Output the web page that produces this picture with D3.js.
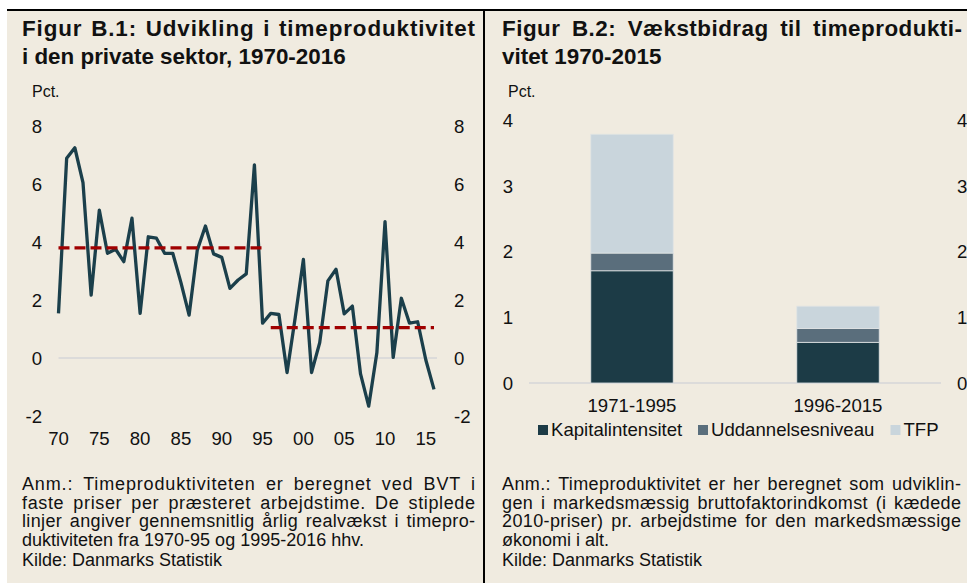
<!DOCTYPE html>
<html>
<head>
<meta charset="utf-8">
<script src="https://cdn.jsdelivr.net/npm/d3@7"></script>
<style>
  body { margin: 0; background: #fff; }
  svg { display: block; font-family: "Liberation Sans", Arial, sans-serif; }
</style>
</head>
<body>
<div id="chart"></div>
<script>
// ---- data ----
const years = [1970, 1971, 1972, 1973, 1974, 1975, 1976, 1977, 1978, 1979,
  1980, 1981, 1982, 1983, 1984, 1985, 1986, 1987, 1988, 1989,
  1990, 1991, 1992, 1993, 1994, 1995, 1996, 1997, 1998, 1999,
  2000, 2001, 2002, 2003, 2004, 2005, 2006, 2007, 2008, 2009,
  2010, 2011, 2012, 2013, 2014, 2015, 2016];
const productivity = [1.54, 6.89, 7.25, 6.05, 2.17, 5.10, 3.61, 3.75, 3.32, 4.82,
  1.54, 4.18, 4.13, 3.61, 3.61, 2.60, 1.48, 3.72, 4.55, 3.59,
  3.47, 2.40, 2.69, 2.90, 6.66, 1.20, 1.54, 1.50, -0.50, 1.40,
  3.40, -0.50, 0.53, 2.66, 3.06, 1.52, 1.79, -0.55, -1.66, 0.18,
  4.70, 0.02, 2.06, 1.20, 1.25, -0.07, -1.08];
const averages = [
  {from: 1970, to: 1995, value: 3.8},
  {from: 1996, to: 2016, value: 1.05}
];
const lineTicks = [-2, 0, 2, 4, 6, 8];
const yearTicks = [1970, 1975, 1980, 1985, 1990, 1995, 2000, 2005, 2010, 2015];
const yearLabels = ["70", "75", "80", "85", "90", "95", "00", "05", "10", "15"];

const periods = ["1971-1995", "1996-2015"];
const kapital = [1.71, 0.62];
const uddannelse = [0.27, 0.21];
const tfp = [1.81, 0.34];
const seriesNames = ["Kapitalintensitet", "Uddannelsesniveau", "TFP"];
const barTicks = [0, 1, 2, 3, 4];

// ---- setup ----
const W = 967, H = 583;
const bg = "#f0ebe0";
const ink = "#111";

const svg = d3.select("#chart").append("svg")
  .attr("width", W)
  .attr("height", H);

svg.append("rect").attr("x", 7).attr("y", 10).attr("width", W - 7).attr("height", H - 10).attr("fill", bg);
// frame lines
svg.append("line").attr("x1", 7).attr("x2", W).attr("y1", 10).attr("y2", 10)
  .attr("stroke", "#000").attr("stroke-width", 2);
svg.append("line").attr("x1", 484).attr("x2", 484).attr("y1", 10).attr("y2", H)
  .attr("stroke", "#000").attr("stroke-width", 2);

// justified line: part of the slack goes to word gaps, the rest to letters
function justify(sel, width, wordShare) {
  sel.each(function() {
    const t = d3.select(this);
    const n = (t.text().match(/ /g) || []).length;
    const w = this.getComputedTextLength();
    if (n) t.attr("word-spacing", (width - w) * wordShare / n);
    t.attr("textLength", width).attr("lengthAdjust", "spacing");
  });
}

function textBlock(x, ys, lines, justifiedCount, width, size, weight, wordShare) {
  lines.forEach((s, i) => {
    const t = svg.append("text")
      .attr("x", x).attr("y", ys[i])
      .attr("font-size", size).attr("font-weight", weight)
      .attr("fill", ink)
      .text(s);
    if (i < justifiedCount) justify(t, width, wordShare);
  });
}

// titles
textBlock(22, [36, 64], ["Figur B.1: Udvikling i timeproduktivitet", "i den private sektor, 1970-2016"],
  1, 453, "22.4px", "bold", 0.15);
textBlock(502, [36, 64], ["Figur B.2: Vækstbidrag til timeprodukti-", "vitet 1970-2015"],
  1, 460, "22.4px", "bold", 0.5);

// notes
const noteY = [490, 508.5, 527, 545.5, 566];
textBlock(22, noteY, [
  "Anm.: Timeproduktiviteten er beregnet ved BVT i",
  "faste priser per præsteret arbejdstime. De stiplede",
  "linjer angiver gennemsnitlig årlig realvækst i timepro-",
  "duktiviteten fra 1970-95 og 1995-2016 hhv.",
  "Kilde: Danmarks Statistik"], 3, 453, "18px", "normal", 0.4);
textBlock(502, noteY, [
  "Anm.: Timeproduktivitet er her beregnet som udviklin-",
  "gen i markedsmæssig bruttofaktorindkomst (i kædede",
  "2010-priser) pr. arbejdstime for den markedsmæssige",
  "økonomi i alt.",
  "Kilde: Danmarks Statistik"], 3, 459, "18px", "normal", 0.4);

// "Pct." labels
svg.append("text").attr("x", 32).attr("y", 97).attr("font-size", "16px").attr("fill", ink).text("Pct.");
svg.append("text").attr("x", 508).attr("y", 97).attr("font-size", "16px").attr("fill", ink).text("Pct.");

// ---- left: line chart ----
const x = d3.scaleLinear().domain([1970, 2016]).range([58.5, 434]);
const y = d3.scaleLinear().domain([-2, 8]).range([416, 126]);

const left = svg.append("g");

left.append("line")
  .attr("x1", x(1970)).attr("x2", x(2016) + 3)
  .attr("y1", y(0)).attr("y2", y(0))
  .attr("stroke", "#d6d6d8").attr("stroke-width", 1.5);

const tickFont = "18.6px";

left.selectAll(".yl").data(lineTicks).join("text")
  .attr("x", 42).attr("y", d => y(d)).attr("dy", "0.36em")
  .attr("text-anchor", "end").attr("font-size", tickFont).attr("fill", ink)
  .text(d => d);
left.selectAll(".yr").data(lineTicks).join("text")
  .attr("x", 454).attr("y", d => y(d)).attr("dy", "0.36em")
  .attr("font-size", tickFont).attr("fill", ink)
  .text(d => d);
left.selectAll(".xl").data(yearTicks).join("text")
  .attr("x", d => x(d)).attr("y", 445)
  .attr("text-anchor", "middle").attr("font-size", tickFont)
  .attr("fill", ink)
  .text((d, i) => yearLabels[i]);

const line = d3.line()
  .x((d, i) => x(years[i]))
  .y(d => y(d));

left.append("path")
  .datum(productivity)
  .attr("d", line)
  .attr("fill", "none")
  .attr("stroke", "#1b3f4b")
  .attr("stroke-width", 3.3)
  .attr("stroke-linejoin", "round");

left.selectAll(".avg").data(averages).join("line")
  .attr("x1", d => x(d.from)).attr("x2", d => x(d.to))
  .attr("y1", d => y(d.value)).attr("y2", d => y(d.value))
  .attr("stroke", "#a00000")
  .attr("stroke-width", 3.3)
  .attr("stroke-dasharray", "11,5");

// ---- right: stacked bars ----
const xb = d3.scaleBand().domain(periods).range([529, 941]).paddingInner(0.6).paddingOuter(0.3);
const yb = d3.scaleLinear().domain([0, 4]).range([383, 120.5]);
const colors = ["#1c3b46", "#5a6e7c", "#c9d5dc"];

const table = periods.map((p, i) => ({
  period: p,
  Kapitalintensitet: kapital[i],
  Uddannelsesniveau: uddannelse[i],
  TFP: tfp[i]
}));
const stacked = d3.stack().keys(seriesNames)(table);

const right = svg.append("g");

right.append("line")
  .attr("x1", 529).attr("x2", 941)
  .attr("y1", yb(0)).attr("y2", yb(0))
  .attr("stroke", "#d6d6d8").attr("stroke-width", 1.5);

right.selectAll(".s").data(stacked).join("g")
  .attr("fill", (d, i) => colors[i])
  .selectAll("rect").data(d => d).join("rect")
    .attr("x", d => xb(d.data.period))
    .attr("width", xb.bandwidth())
    .attr("y", d => yb(d[1]))
    .attr("height", d => yb(d[0]) - yb(d[1]))
    .attr("stroke", "#dfe3e4")
    .attr("stroke-width", 0.8);

right.selectAll(".yl").data(barTicks).join("text")
  .attr("x", 513).attr("y", d => yb(d)).attr("dy", "0.36em")
  .attr("text-anchor", "end").attr("font-size", tickFont).attr("fill", ink)
  .text(d => d);
right.selectAll(".yr").data(barTicks).join("text")
  .attr("x", 957).attr("y", d => yb(d)).attr("dy", "0.36em")
  .attr("font-size", tickFont).attr("fill", ink)
  .text(d => d);
right.selectAll(".xl").data(periods).join("text")
  .attr("x", d => xb(d) + xb.bandwidth() / 2).attr("y", 411.5)
  .attr("text-anchor", "middle").attr("font-size", tickFont)
  .attr("fill", ink)
  .text(d => d);

// legend
const legendX = [538, 698, 890.5];
const legend = right.selectAll(".lg").data(seriesNames).join("g")
  .attr("transform", (d, i) => `translate(${legendX[i]},425)`);
legend.append("rect").attr("width", 10).attr("height", 10).attr("fill", (d, i) => colors[i]);
legend.append("text").attr("x", 13).attr("y", 11)
  .attr("font-size", tickFont).attr("fill", ink)
  .text(d => d);
</script>
</body>
</html>
